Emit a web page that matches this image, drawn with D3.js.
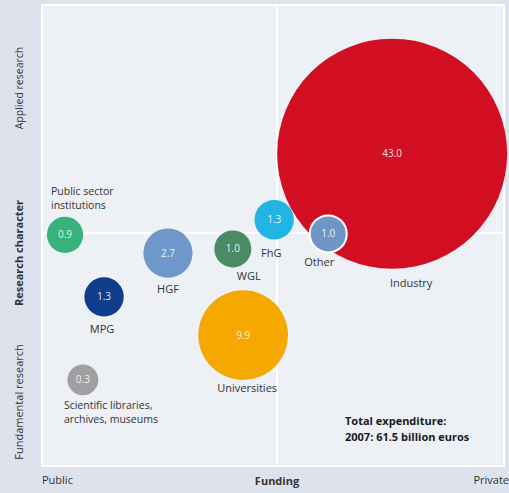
<!DOCTYPE html>
<html>
<head>
<meta charset="utf-8">
<script src="https://cdn.jsdelivr.net/npm/d3@7"></script>
<style>
  html, body { margin: 0; padding: 0; background: #dde2ed; }
  svg { display: block; }
  text { font-family: "Open Sans", Lato, sans-serif; }
</style>
</head>
<body>
<svg id="chart" width="509" height="493"></svg>
<script>
// ---- data ----
const names    = ["Industry", "Universities", "HGF", "MPG", "FhG", "WGL", "Other", "Public sector institutions", "Scientific libraries, archives, museums"];
const values   = [43.0, 9.9, 2.7, 1.3, 1.3, 1.0, 1.0, 0.9, 0.3];          // billion euros
const funding  = [74.5, 42.8, 26.8, 13.2, 49.4, 40.6, 60.9, 4.9, 8.7];    // 0 = public, 100 = private
const research = [67.4, 27.6, 45.6, 36.0, 52.9, 46.5, 49.8, 49.6, 17.8];  // 0 = fundamental, 100 = applied
const colors   = ["#d20f22", "#f5a800", "#6f97c9", "#0f3d8c", "#22b4e2", "#4a8a64", "#6e97c7", "#36b27a", "#a0a0a3"];
const labelLines = [["Industry"], ["Universities"], ["HGF"], ["MPG"], ["FhG"], ["WGL"], ["Other"],
                    ["Public sector", "institutions"], ["Scientific libraries,", "archives, museums"]];
const xAxisLabels = ["Public", "Funding", "Private"];
const yAxisLabels = ["Fundamental research", "Research character", "Applied research"];
const totalNote = ["Total expenditure:", "2007: 61.5 billion euros"];

// ---- layout ----
const svg = d3.select("#chart");
const panel = { x0: 42, x1: 504, y0: 5, y1: 466 };
const x = d3.scaleLinear().domain([0, 100]).range([42, 512]);
const y = d3.scaleLinear().domain([0, 100]).range([461, 5]);
const r = d3.scalePow().exponent(0.8).domain([0, 43]).range([13.5, 115]);

// panel
svg.append("rect")
  .attr("x", panel.x0).attr("y", panel.y0)
  .attr("width", panel.x1 - panel.x0).attr("height", panel.y1 - panel.y0)
  .attr("fill", "#edf0f5").attr("stroke", "#ffffff").attr("stroke-width", 2);

// quadrant dividers
svg.append("line")
  .attr("x1", x(50)).attr("x2", x(50)).attr("y1", panel.y0).attr("y2", panel.y1)
  .attr("stroke", "#ffffff").attr("stroke-width", 2);
svg.append("line")
  .attr("x1", panel.x0).attr("x2", panel.x1).attr("y1", y(50)).attr("y2", y(50))
  .attr("stroke", "#ffffff").attr("stroke-width", 2);

const data = names.map((n, i) => ({
  name: n, value: values[i], fx: funding[i], ry: research[i], color: colors[i], lines: labelLines[i]
}));

// bubbles
const g = svg.append("g");
g.selectAll("circle").data(data).join("circle")
  .attr("cx", d => x(d.fx)).attr("cy", d => y(d.ry)).attr("r", d => r(d.value))
  .attr("fill", d => d.color)
  .attr("stroke", d => d.name === "Other" ? "#ffffff" : "none")
  .attr("stroke-width", 2);

g.selectAll("text.val").data(data).join("text")
  .attr("class", "val")
  .attr("x", d => x(d.fx)).attr("y", d => y(d.ry))
  .attr("dy", "0.35em").attr("text-anchor", "middle")
  .attr("fill", "#ffffff").attr("fill-opacity", 0.9)
  .attr("font-size", 10)
  .text(d => d.value.toFixed(1));

// label placement offsets (relative to bubble centre)
const labelPos = {
  "Industry": { dx: 19, dy: 133, anchor: "middle" },
  "Universities": { dx: 4, dy: 57, anchor: "middle" },
  "HGF": { dx: 0, dy: 40, anchor: "middle" },
  "MPG": { dx: -2, dy: 36, anchor: "middle" },
  "FhG": { dx: -3, dy: 37, anchor: "middle" },
  "WGL": { dx: 16, dy: 31, anchor: "middle" },
  "Other": { dx: -9, dy: 32, anchor: "middle" },
  "Public sector institutions": { dx: -14, dy: -40, anchor: "start" },
  "Scientific libraries, archives, museums": { dx: -19, dy: 29, anchor: "start" }
};

data.forEach(d => {
  const p = labelPos[d.name];
  d.lines.forEach((line, k) => {
    g.append("text")
      .attr("x", x(d.fx) + p.dx).attr("y", y(d.ry) + p.dy + k * 14.5)
      .attr("text-anchor", p.anchor)
      .attr("font-size", d.lines.length > 1 ? 10.5 : 11).attr("fill", "#333333")
      .text(line);
  });
});

// total note
totalNote.forEach((line, k) => {
  svg.append("text").attr("x", 345).attr("y", 425 + k * 16)
    .attr("font-size", 11).attr("font-weight", "bold").attr("fill", "#1a1a1a")
    .text(line);
});

// x axis labels
svg.append("text").attr("x", 42).attr("y", 484).attr("font-size", 11).attr("fill", "#333")
  .text(xAxisLabels[0]);
svg.append("text").attr("x", x(50)).attr("y", 485).attr("text-anchor", "middle")
  .attr("font-size", 11).attr("font-weight", "bold").attr("fill", "#333").text(xAxisLabels[1]);
svg.append("text").attr("x", 509).attr("y", 484).attr("text-anchor", "end")
  .attr("font-size", 11).attr("fill", "#333").text(xAxisLabels[2]);

// y axis labels (rotated)
const yl = [
  { t: yAxisLabels[2], cy: 88, bold: false, fs: 10.5 },
  { t: yAxisLabels[1], cy: 253, bold: true, fs: 11 },
  { t: yAxisLabels[0], cy: 402, bold: false, fs: 11 }
];
yl.forEach(o => {
  svg.append("text")
    .attr("transform", `translate(23,${o.cy}) rotate(-90)`)
    .attr("text-anchor", "middle")
    .attr("font-size", o.fs).attr("font-weight", o.bold ? "bold" : "normal")
    .attr("fill", "#333").text(o.t);
});
</script>
</body>
</html>
